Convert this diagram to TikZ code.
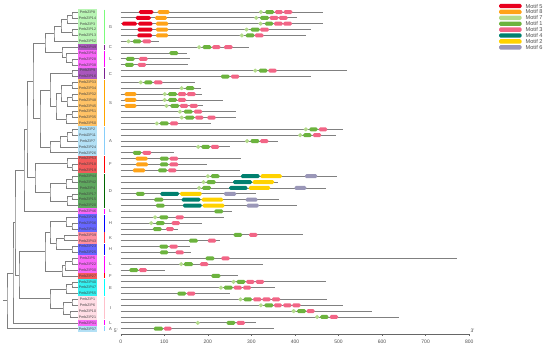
\documentclass[tikz,border=0pt]{standalone}
\usepackage{fontspec}
\setmainfont{Liberation Sans}
\usepackage{xcolor}
\usepackage{tikz}
\usetikzlibrary{calc,positioning}

% motif colours
\definecolor{mcolA}{HTML}{E8001E}
\definecolor{mcolB}{HTML}{FFA318}
\definecolor{mcolC}{HTML}{B3DB8B}
\definecolor{mcolD}{HTML}{6CB33E}
\definecolor{mcolE}{HTML}{F26586}
\definecolor{mcolF}{HTML}{00806F}
\definecolor{mcolG}{HTML}{FFD200}
\definecolor{mcolH}{HTML}{9A97B8}
% subfamily colours (label / bar)
\definecolor{bgG}{HTML}{B9F5B4}\definecolor{barG}{HTML}{7CFC7C}
\definecolor{bgC}{HTML}{A956BC}\definecolor{barC}{HTML}{7B1F8F}
\definecolor{bgL}{HTML}{F866F8}\definecolor{barL}{HTML}{FF00FF}
\definecolor{bgS}{HTML}{FFC266}\definecolor{barS}{HTML}{FFA500}
\definecolor{bgA}{HTML}{B3E0F5}\definecolor{barA}{HTML}{87CEFA}
\definecolor{bgF}{HTML}{F25A5A}\definecolor{barF}{HTML}{FF0000}
\definecolor{bgD}{HTML}{5FA85F}\definecolor{barD}{HTML}{006400}
\definecolor{bgH}{HTML}{6666FF}\definecolor{barH}{HTML}{0000FF}
\definecolor{bgK}{HTML}{FF8FA0}\definecolor{barK}{HTML}{FF3040}
\definecolor{bgE}{HTML}{33F0F0}\definecolor{barE}{HTML}{00FFFF}
\definecolor{bgI}{HTML}{FFDDE5}\definecolor{barI}{HTML}{FFC0CB}

\tikzset{
  branch/.style={draw=black!50, line width=0.55pt},
  backbone/.style={draw=black!50, line width=0.9pt},
  genelabel/.style={inner sep=0pt, minimum width=19pt, minimum height=5.9pt,
    font=\fontsize{3.6}{4}\selectfont, text=black!75},
  grouplabel/.style={font=\fontsize{4.2}{5}\selectfont, text=black!70},
  motif/.style={rounded corners=1.4pt},
  m5/.style={fill=mcolA}, m8/.style={fill=mcolB}, m7/.style={fill=mcolC, rounded corners=1.9pt},
  m1/.style={fill=mcolD}, m3/.style={fill=mcolE}, m4/.style={fill=mcolF},
  m2/.style={fill=mcolG}, m6/.style={fill=mcolH},
  ticklabel/.style={font=\fontsize{5}{6}\selectfont, text=black!70},
  keylabel/.style={font=\fontsize{5.6}{6}\selectfont, text=black!70, anchor=west, inner sep=0pt},
}

% one clade: name, x, first child, last child
\newcommand\clade[4]{%
  \coordinate (#1mid) at ($(#3)!0.5!(#4)$);
  \coordinate (#1) at (#2,0 |- #1mid);
  \draw[branch] (#3) -| (#1) |- (#4);
}

\begin{document}
\begin{tikzpicture}[x=1pt, y=-1pt]
\useasboundingbox (0,0) rectangle (550,346);

% gene labels
\foreach \i/\grp/\gid/\len in {1/G/8/464, 2/G/14/404, 3/G/3/465, 4/G/12/437, 5/G/13/426, 6/G/52/88,
  7/C/49/295, 8/L/54/152, 9/L/28/160, 10/L/38/155, 11/C/9/520, 12/C/16/437,
  13/S/33/170, 14/S/34/184, 15/S/32/187, 16/S/48/234, 17/S/45/190, 18/S/51/264, 19/S/35/265, 20/S/50/208,
  21/A/2/510, 22/A/11/495, 23/A/7/362, 24/A/24/251, 25/A/26/122,
  26/F/53/277, 27/F/18/199, 28/F/19/275,
  29/D/44/497, 30/D/42/360, 31/D/4/472, 32/D/17/310, 33/D/15/363, 34/D/20/404,
  35/L/46/256, 36/H/29/237, 37/H/36/187, 38/H/41/132, 39/K/39/419, 40/K/43/228,
  41/H/23/159, 42/H/25/161, 43/L/5/771, 44/L/22/327, 45/L/30/101, 46/F/27/270,
  47/E/40/471, 48/E/47/354, 49/E/55/252,
  50/I/1/474, 51/I/6/510, 52/I/10/578, 53/I/21/638, 54/L/31/310, 55/A/37/352}
{
  \pgfmathsetmacro\yy{12+5.865*(\i-1)}
  \node[genelabel, fill=bg\grp] (p\i) at (87.5,\yy) {PmbZIP\gid};
  \coordinate (t\i) at (p\i.west);
  \begin{scope}[xshift=120.7pt, x=0.4356pt]
    \draw[backbone] (0,\yy) -- (\len,\yy);
  \end{scope}
}

% subfamily bars
\foreach \grp/\a/\b in {G/1/6, C/7/7, L/8/10, C/11/12, S/13/20, A/21/25, F/26/28, D/29/34,
  L/35/35, H/36/38, K/39/40, H/41/42, L/43/45, F/46/46, E/47/49, I/50/53, L/54/54, A/55/55}
{
  \pgfmathsetmacro\ya{12+5.865*(\a-1)-2.5}
  \pgfmathsetmacro\yb{12+5.865*(\b-1)+2.5}
  \draw[bar\grp, line width=1.4pt] (104.5,\ya) -- (104.5,\yb);
  \node[grouplabel] at (110.5,{(\ya+\yb)/2}) {\grp};
}

% motifs
\begin{scope}[xshift=120.7pt, x=0.4356pt]
\foreach \r/\m/\a/\b in {
  1/5/42/75, 1/8/85/112, 1/7/317/327, 1/1/332/352, 1/3/354/372, 1/3/374/394,
  2/5/35/69, 2/8/79/106, 2/7/306/316, 2/1/320/340, 2/3/342/362, 2/3/363/383,
  3/5/3/37, 3/5/40/73, 3/8/81/109, 3/7/316/326, 3/1/331/350, 3/3/352/372, 3/3/373/393,
  4/5/39/73, 4/8/81/109, 4/7/284/294, 4/1/298/319, 4/3/320/340,
  5/5/38/72, 5/8/81/109, 5/7/273/283, 5/1/287/307, 5/3/308/328,
  6/7/13/23, 6/1/28/47, 6/3/50/70,
  7/7/175/185, 7/1/188/208, 7/3/210/229, 7/3/237/257,
  8/1/112/132, 9/1/12/32, 9/3/42/62, 10/1/10/30, 10/3/39/58,
  11/7/304/314, 11/1/317/337, 11/3/339/358, 12/1/230/250, 12/3/253/272,
  13/7/41/51, 13/1/54/73, 13/3/76/96, 14/7/135/145, 14/1/149/169,
  15/8/9/36, 15/7/96/106, 15/1/109/129, 15/3/131/150, 15/3/152/172,
  16/8/9/36, 16/7/96/106, 16/1/109/129, 16/3/131/150,
  17/8/9/36, 17/7/100/110, 17/1/114/134, 17/3/136/155, 17/3/158/177,
  18/7/131/141, 18/1/145/165, 18/3/168/187,
  19/7/135/145, 19/1/148/169, 19/3/171/190, 19/3/199/218,
  20/7/78/88, 20/1/90/110, 20/3/113/132,
  21/7/420/430, 21/1/433/452, 21/3/455/474, 22/7/407/417, 22/1/419/438, 22/3/441/460,
  23/7/285/295, 23/1/298/318, 23/3/320/339, 24/7/173/183, 24/1/185/205, 24/3/207/226,
  25/1/28/47, 25/3/50/70,
  26/8/34/62, 26/1/90/110, 26/3/112/132, 27/8/35/63, 27/1/90/109, 27/3/112/132,
  28/8/28/56, 28/1/86/106, 28/3/109/128,
  29/7/195/205, 29/1/207/227, 29/4/276/319, 29/2/321/370, 29/6/423/451,
  30/7/185/195, 30/1/197/218, 30/4/258/301, 30/2/303/352,
  31/7/175/185, 31/1/187/207, 31/4/249/291, 31/2/294/343, 31/6/399/426,
  32/1/35/55, 32/4/91/134, 32/2/136/186, 32/6/237/265,
  33/1/77/98, 33/4/140/183, 33/2/186/235, 33/6/287/314,
  34/1/81/101, 34/4/143/186, 34/2/188/238, 34/6/289/317,
  35/1/215/235, 36/7/74/84, 36/1/89/109, 36/3/126/145,
  37/7/65/75, 37/1/81/101, 37/3/117/136, 38/1/74/94, 38/3/104/122,
  39/1/259/279, 39/3/295/314, 40/1/157/177, 40/3/200/219,
  41/1/89/109, 41/3/112/131, 42/1/90/109, 42/3/126/145,
  43/1/195/215, 43/3/231/250, 44/7/134/144, 44/1/145/166, 44/3/182/201,
  45/1/20/40, 45/3/42/60, 46/1/208/229,
  47/7/254/264, 47/1/266/286, 47/3/288/307, 47/3/310/329,
  48/7/225/235, 48/1/237/257, 48/3/259/278, 48/3/281/299,
  49/1/130/150, 49/3/152/171,
  50/7/270/280, 50/1/282/301, 50/3/304/323, 50/3/325/344, 50/3/347/366,
  51/7/317/327, 51/1/330/350, 51/3/352/370, 51/3/373/392, 51/3/394/413,
  52/7/392/402, 52/1/405/425, 52/3/427/445, 53/7/446/456, 53/1/458/477, 53/3/480/499,
  54/7/172/182, 54/1/243/263, 54/3/266/285, 55/1/76/97, 55/3/99/117}
{
  \pgfmathsetmacro\yy{12+5.865*(\r-1)}
  \fill[motif, m\m] (\a,{\yy-2}) rectangle (\b,{\yy+2});
}

% scale
\draw[black!60, line width=0.5pt] (0,334) -- (800,334);
\foreach \t in {0,100,...,800} {
  \draw[black!60, line width=0.4pt] (\t,334) -- (\t,335.5);
  \node[ticklabel, anchor=north] at (\t,336) {\t};
}
\node[ticklabel] at (-11,331) {5'};
\node[ticklabel] at (808,331) {3'};
\end{scope}

% tree
\clade{g1}{72}{t1}{t2}
\clade{g2}{67}{g1}{t3}
\clade{g3}{72}{t4}{t5}
\clade{g4}{61}{g2}{g3}
\clade{g5}{54}{g4}{t6}
\clade{c1}{72}{t9}{t10}
\clade{c2}{66}{t8}{c1}
\clade{c3}{62}{t7}{c2}
\clade{gc}{45}{g5}{c3}
\clade{c4}{72}{t11}{t12}
\clade{s1}{72}{t13}{t14}
\clade{s2}{72}{t15}{t16}
\clade{s3}{67}{s2}{t17}
\clade{s4}{61}{s1}{s3}
\clade{s5}{72}{t18}{t19}
\clade{s6}{66}{s5}{t20}
\clade{s7}{56}{s4}{s6}
\clade{cs}{50}{c4}{s7}
\clade{a1}{72}{t21}{t22}
\clade{a2}{67}{a1}{t23}
\clade{a3}{60}{a2}{t24}
\clade{a4}{50}{a3}{t25}
\clade{sa}{40}{cs}{a4}
\clade{up}{33}{gc}{sa}
\clade{f1}{72}{t27}{t28}
\clade{f2}{67}{t26}{f1}
\clade{d1}{72}{t29}{t30}
\clade{d2}{66}{d1}{t31}
\clade{d3}{72}{t32}{t33}
\clade{d4}{67}{d3}{t34}
\clade{d5}{50}{d2}{d4}
\clade{fd}{35}{f2}{d5}
\clade{upfd}{27}{up}{fd}
\clade{upl}{24}{upfd}{t35}
\clade{h1}{72}{t37}{t38}
\clade{h2}{66}{t36}{h1}
\clade{k1}{64}{t39}{t40}
\clade{h3}{72}{t41}{t42}
\clade{kh}{56}{k1}{h3}
\clade{hh}{50}{h2}{kh}
\clade{q1}{72}{t43}{t44}
\clade{q2}{65}{q1}{t45}
\clade{q3}{62}{q2}{t46}
\clade{hq}{45}{hh}{q3}
\clade{e1}{72}{t47}{t48}
\clade{e2}{66}{e1}{t49}
\clade{i1}{72}{t50}{t51}
\clade{i2}{70}{t52}{t53}
\clade{i3}{63}{i1}{i2}
\clade{ei}{50}{e2}{i3}
\clade{lo}{19}{hq}{ei}
\clade{all}{15}{upl}{lo}
\clade{r1}{13}{all}{t54}
\clade{r2}{7}{r1}{t55}
\coordinate (root) at (3,0 |- r2);
\draw[branch] (r2) -- (root);

% legend
\foreach \m/\k [count=\j] in {5/5, 8/8, 7/7, 1/1, 3/3, 4/4, 2/2, 6/6} {
  \pgfmathsetmacro\yy{6+5.9*(\j-1)}
  \fill[m\m, rounded corners=1.5pt] (499,{\yy-2.2}) rectangle (521.7,{\yy+2.2});
  \node[keylabel] (key\j) at (525.5,\yy) {Motif \k};
}
\end{tikzpicture}
\end{document}
